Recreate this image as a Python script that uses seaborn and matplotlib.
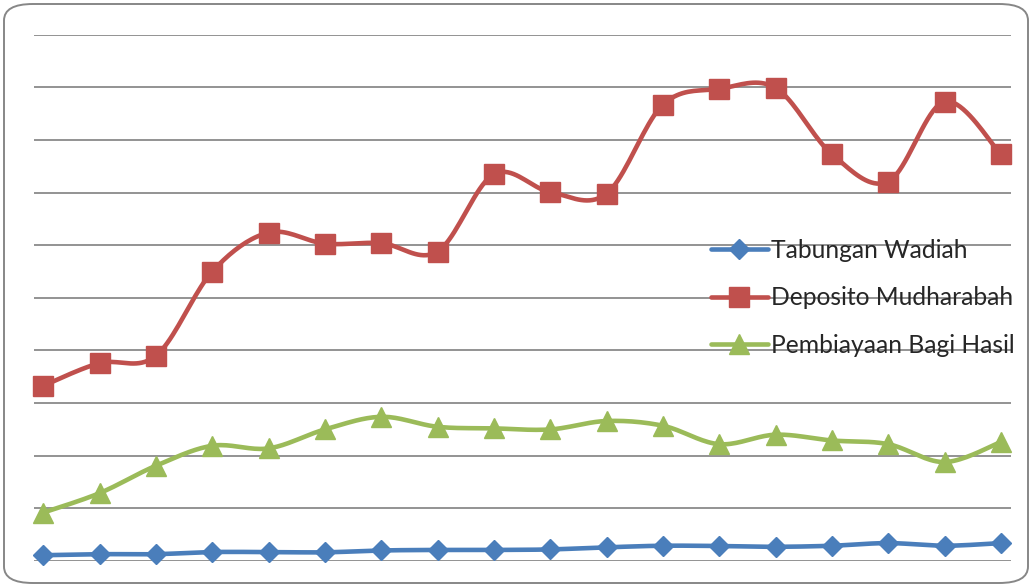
import numpy as np
import pandas as pd
import seaborn as sns
import matplotlib.pyplot as plt
from matplotlib.lines import Line2D
from matplotlib.patches import FancyBboxPatch

# values (one gridline = 1 unit)
periods = list(range(18))
tabungan_wadiah = [0.11, 0.13, 0.13, 0.17, 0.17, 0.165, 0.20, 0.21, 0.21, 0.22,
                   0.26, 0.29, 0.285, 0.27, 0.29, 0.34, 0.29, 0.34]
deposito_mudharabah = [3.33, 3.76, 3.90, 5.50, 6.24, 6.03, 6.04, 5.88, 7.35, 7.01,
                       6.98, 8.67, 8.97, 8.99, 7.73, 7.21, 8.73, 7.73]
pembiayaan_bagi_hasil = [0.92, 1.29, 1.81, 2.19, 2.14, 2.50, 2.74, 2.55, 2.52, 2.50,
                         2.66, 2.57, 2.22, 2.40, 2.29, 2.22, 1.88, 2.26]
labels = ['Tabungan Wadiah', 'Deposito Mudharabah', 'Pembiayaan Bagi Hasil']
colors = ['#4A7EBB', '#C0504D', '#9BBB59']
markers = [('D', 10.5), ('s', 14.5), ('^', 14.5)]


def smooth(x, y, n=20):
    """Catmull-Rom curve through the points, like Excel's smoothed line"""
    x = np.asarray(x, float)
    y = np.asarray(y, float)
    px = np.concatenate([[x[0]], x, [x[-1]]])
    py = np.concatenate([[y[0]], y, [y[-1]]])
    xs, ys = [], []
    t = np.linspace(0, 1, n, endpoint=False)
    for i in range(1, len(px) - 2):
        for p, out in ((px, xs), (py, ys)):
            p0, p1, p2, p3 = p[i - 1], p[i], p[i + 1], p[i + 2]
            out.extend(0.5 * (2 * p1 + (-p0 + p2) * t
                              + (2 * p0 - 5 * p1 + 4 * p2 - p3) * t ** 2
                              + (-p0 + 3 * p1 - 3 * p2 + p3) * t ** 3))
    xs.append(x[-1])
    ys.append(y[-1])
    return np.array(xs), np.array(ys)


sns.set_style('white')
plt.rcParams['font.family'] = ['Lato', 'DejaVu Sans']

fig = plt.figure(figsize=(10.32, 5.88), dpi=100)
ax = fig.add_axes([34 / 1032, 27 / 588, 977 / 1032, 526.3 / 588])

series = [tabungan_wadiah, deposito_mudharabah, pembiayaan_bagi_hasil]
for vals, c, (m, ms) in zip(series, colors, markers):
    sx, sy = smooth(periods, vals)
    curve = pd.DataFrame({'x': sx, 'y': sy})
    sns.lineplot(data=curve, x='x', y='y', color=c, lw=3.3, sort=False,
                 ax=ax, zorder=3)
    ax.plot(periods, vals, ls='none', marker=m, ms=ms, color=c,
            mec=c, zorder=4, clip_on=False)

ax.set_xlim(-0.165, 17.18)
ax.set_ylim(0, 10)
ax.set_yticks(range(11))
ax.yaxis.grid(True, color='#8a8a8a', lw=1.3)
ax.set_xticks([])
ax.tick_params(left=False, labelleft=False)
ax.set_xlabel('')
ax.set_ylabel('')
for s in ax.spines.values():
    s.set_visible(False)

handles = [Line2D([0], [0], color=c, lw=3.3, marker=m, ms=ms)
           for c, (m, ms) in zip(colors, markers)]
ax.legend(handles, labels, loc='center left', bbox_to_anchor=(0.693, 0.50),
          frameon=False, fontsize=17.7, handlelength=2.3, handletextpad=0.12,
          labelspacing=1.0, borderpad=0, borderaxespad=0)

fig.patches.append(FancyBboxPatch((4 / 1032, 5 / 588), 1024 / 1032, 579 / 588,
                                  boxstyle='round,pad=0,rounding_size=0.028',
                                  transform=fig.transFigure, fill=False,
                                  ec='#878787', lw=1.4, figure=fig))

fig.savefig('out.png', dpi=100)
